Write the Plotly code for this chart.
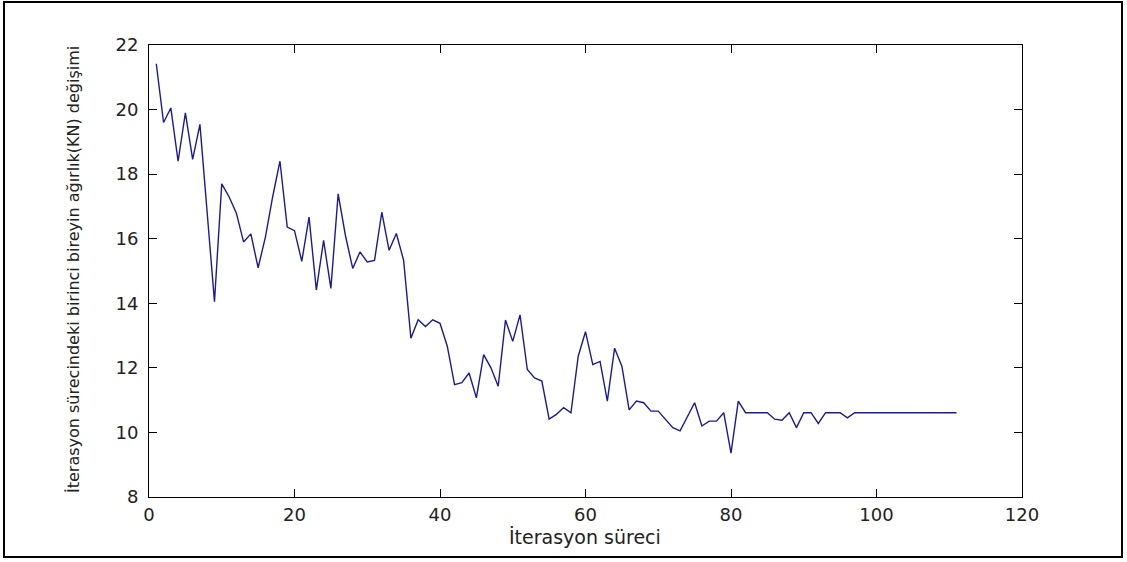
import plotly.graph_objects as go

iterations = list(range(1, 112))
weights = [
    21.42, 19.6, 20.05, 18.4, 19.9, 18.46, 19.54, 16.7, 14.05, 17.7,
    17.3, 16.8, 15.9, 16.15, 15.1, 16.05, 17.3, 18.4, 16.36, 16.25,
    15.3, 16.67, 14.41, 15.95, 14.46, 17.39, 16.1, 15.08, 15.59, 15.28,
    15.33, 16.82, 15.64, 16.16, 15.33, 12.92, 13.49, 13.28, 13.49, 13.38,
    12.67, 11.48, 11.54, 11.84, 11.07, 12.41, 12.0, 11.43, 13.48, 12.82,
    13.64, 11.95, 11.69, 11.59, 10.41, 10.56, 10.77, 10.61, 12.36, 13.12,
    12.1, 12.2, 10.97, 12.61, 12.05, 10.7, 10.97, 10.92, 10.66, 10.66,
    10.41, 10.15, 10.05, 10.48, 10.92, 10.2, 10.35, 10.35, 10.61, 9.36,
    10.97, 10.61, 10.61, 10.61, 10.61, 10.41, 10.38, 10.61, 10.15, 10.61,
    10.61, 10.28, 10.61, 10.61, 10.61, 10.45, 10.61, 10.61, 10.61, 10.61,
    10.61, 10.61, 10.61, 10.61, 10.61, 10.61, 10.61, 10.61, 10.61, 10.61,
    10.61,
]
x_ticks = [0, 20, 40, 60, 80, 100, 120]
y_ticks = [8, 10, 12, 14, 16, 18, 20, 22]
x_title = "İterasyon süreci"
y_title = "İterasyon sürecindeki birinci bireyin ağırlık(KN) değişimi"

W, H = 1127, 562
ML, MR, MT, MB = 149, 105, 45, 65
PW, PH = W - ML - MR, H - MT - MB
FONT = "DejaVu Sans, Verdana, sans-serif"

def px_x(p):
    return (p - ML) / PW

def px_y(p):
    return (H - MB - p) / PH

fig = go.Figure()
fig.add_trace(go.Scatter(
    x=iterations, y=weights, mode="lines",
    line=dict(color="#1a1a9a", width=1.4), showlegend=False,
))

axis_common = dict(
    showline=True, linecolor="black", linewidth=1, mirror="ticks",
    ticks="inside", ticklen=8, tickcolor="black", tickwidth=1,
    showgrid=False, zeroline=False,
    tickfont=dict(family=FONT, size=18, color="#222222"),
)
fig.update_xaxes(range=[0, 120], tickvals=x_ticks, ticklabelstandoff=1, **axis_common)
fig.update_yaxes(range=[8, 22], tickvals=y_ticks, ticklabelstandoff=6, **axis_common)

fig.add_annotation(
    text=x_title, xref="paper", yref="paper",
    x=px_x(585), y=px_y(537), showarrow=False,
    font=dict(family=FONT, size=19, color="#222222"),
    xanchor="center", yanchor="middle",
)
fig.add_annotation(
    text=y_title, xref="paper", yref="paper",
    x=px_x(73), y=px_y(270), showarrow=False, textangle=-90,
    font=dict(family=FONT, size=16, color="#222222"),
    xanchor="center", yanchor="middle",
)
fig.add_shape(
    type="rect", xref="paper", yref="paper",
    x0=px_x(4), x1=px_x(1122), y0=px_y(557), y1=px_y(2),
    line=dict(color="black", width=2),
)

fig.update_layout(
    width=W, height=H,
    margin=dict(l=ML, r=MR, t=MT, b=MB),
    paper_bgcolor="white", plot_bgcolor="white",
)
fig.write_html("out.html")
